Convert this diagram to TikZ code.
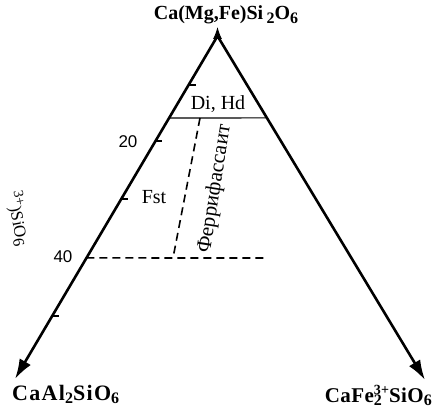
\documentclass[tikz,border=0pt]{standalone}
\usepackage{fontspec}
\setmainfont{Liberation Serif}
\setsansfont{Liberation Sans}
\newfontfamily\wideA[LetterSpace=6]{Liberation Serif}
\newfontfamily\wideB[LetterSpace=2]{Liberation Serif}
\newcommand\mysb[1]{\raisebox{-0.35ex}{\fontsize{16}{16}\selectfont #1}}
\newcommand\mysp[1]{\raisebox{0.8ex}{\fontsize{14}{14}\selectfont #1}}
\usetikzlibrary{arrows.meta,calc}
\begin{document}
\begin{tikzpicture}[x=1pt,y=-1pt,
  side/.style={line width=2.6pt},
  bigtip/.style={-{Latex[length=20pt,width=13pt]}},
  tickmark/.style={line width=1.8pt},
  dashln/.style={line width=1.6pt,dash pattern=on 8pt off 5pt},
  thinln/.style={line width=1.2pt},
  formula/.style={font=\fontsize{20}{24}\selectfont\bfseries,inner sep=0pt},
  lbl/.style={font=\fontsize{20}{24}\selectfont,inner sep=0pt},
  num/.style={font=\sffamily\fontsize{17}{20}\selectfont,inner sep=0pt}]
\useasboundingbox (0,0) rectangle (433,414);
\coordinate (A) at (217.5,36);
\coordinate (Atip) at (217.5,27);
\coordinate (Abase) at (217.5,39);
\coordinate (L) at (15,379);
\coordinate (R) at (425,380);
% sides
\draw[side,bigtip] (A) -- (L);
\draw[side,bigtip] (A) -- (R);
\draw[line width=1pt,-{Latex[length=12pt,width=9pt]}] (Abase) -- (Atip);
% ticks
\foreach \t/\n in {0.142/a,0.307/b,0.476/c,0.817/d}{
  \coordinate (tk\n) at ($(A)!\t!(L)$);
  \draw[tickmark] (tk\n) -- ++(7,0);
}
% Di, Hd line
\coordinate (h1) at ($(A)!0.239!(L)$);
\coordinate (h2) at ($(A)!0.238!(R)$);
\draw[thinln] (h1) -- (h2);
% dashed lines
\coordinate (d1) at ($(A)!0.647!(L)$);
\coordinate (d2) at (268,258);
\draw[dashln] (d1) -- (d2);
\coordinate (v1) at (200,118);
\coordinate (v2) at (173,258);
\draw[dashln] (v1) -- (v2);
% texts
\node[formula,anchor=base] (top) at (226,20) {Ca(Mg,Fe)Si\,\mysb{2}O\mysb{6}};
\node[formula,anchor=base west,font=\fontsize{22}{24}\selectfont] (bl) at (12,400) {\wideA\bfseries CaAl\mysb{2}SiO\mysb{6}};
\node[formula,anchor=base east,font=\fontsize{21}{24}\selectfont] (br) at (432,402) {\wideB\bfseries CaFe\mbox{\rlap{\mysb{2}}\mysp{3+}}SiO\mysb{6}};
\node[lbl,anchor=base] (dihd) at (218,110) {Di, Hd};
\node[lbl,anchor=base] (fst) at (154,203) {Fst};
\node[num,anchor=base] (n20) at (128,148) {20};
\node[num,anchor=base] (n40) at (63,262) {40};
\node[lbl,rotate=81,font=\fontsize{21}{24}\selectfont] (ferr) at (215,189) {Феррифассаит};
\node[lbl,rotate=-80,anchor=base east,font=\fontsize{17}{20}\selectfont] (frag) at (17,247) {\mysp{3+})SiO\mysb{6}};
\end{tikzpicture}
\end{document}
